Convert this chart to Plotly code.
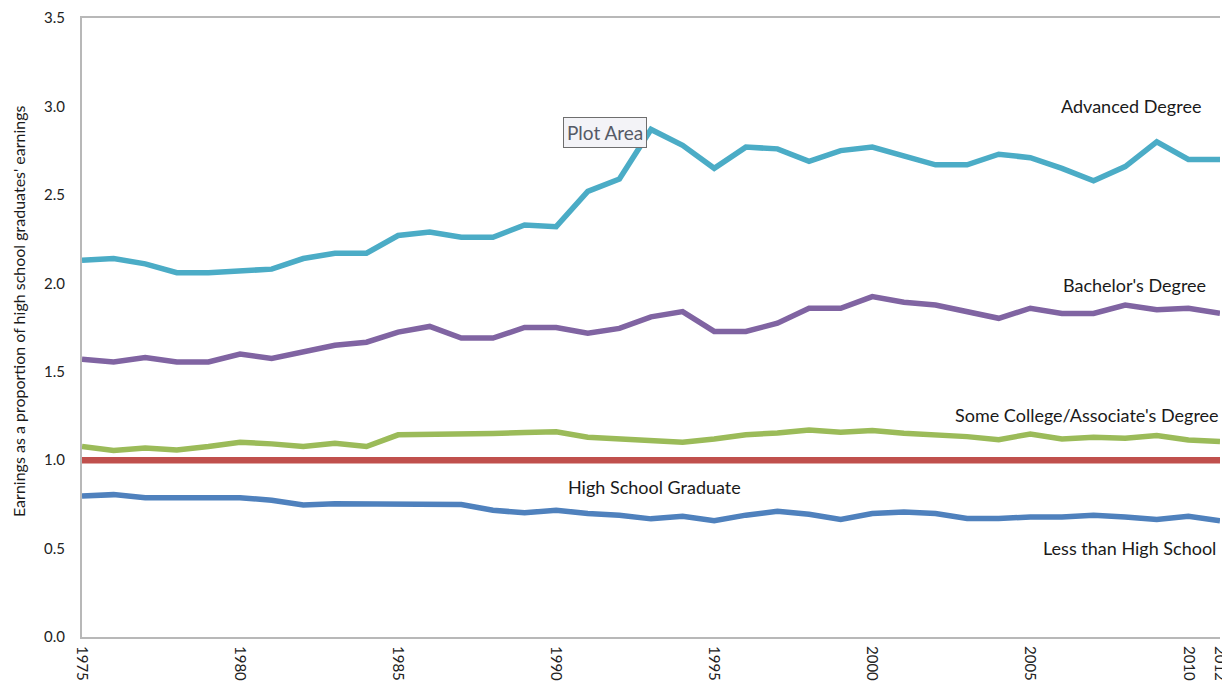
import plotly.graph_objects as go

years = [str(y) for y in range(1975, 2011)] + ["2012"]

advanced = [2.13, 2.14, 2.11, 2.06, 2.06, 2.07, 2.08, 2.14, 2.17, 2.17, 2.27, 2.29,
            2.26, 2.26, 2.33, 2.32, 2.52, 2.59, 2.87, 2.78, 2.65, 2.77, 2.76, 2.69,
            2.75, 2.77, 2.72, 2.67, 2.67, 2.73, 2.71, 2.65, 2.58, 2.66, 2.80, 2.70, 2.70]
bachelors = [1.57, 1.555, 1.58, 1.555, 1.555, 1.60, 1.575, 1.615, 1.65, 1.667, 1.724, 1.756,
             1.69, 1.69, 1.75, 1.75, 1.718, 1.745, 1.81, 1.84, 1.728, 1.728, 1.774, 1.859,
             1.859, 1.925, 1.893, 1.877, 1.84, 1.802, 1.859, 1.829, 1.829, 1.877, 1.85, 1.859, 1.83]
some_college = [1.077, 1.054, 1.069, 1.058, 1.077, 1.101, 1.092, 1.077, 1.096, 1.077, 1.143, 1.143,
                1.143, 1.150, 1.156, 1.161, 1.130, 1.120, 1.111, 1.101, 1.120, 1.143, 1.154, 1.171,
                1.158, 1.167, 1.152, 1.143, 1.133, 1.116, 1.148, 1.120, 1.129, 1.124, 1.139, 1.114, 1.105]
hs_grad = [1.0] * len(years)
less_hs = [0.797, 0.805, 0.788, 0.788, 0.795, 0.788, 0.773, 0.747, 0.754, 0.754, 0.749, 0.749,
           0.749, 0.717, 0.702, 0.717, 0.698, 0.689, 0.668, 0.683, 0.657, 0.689, 0.711, 0.694,
           0.664, 0.698, 0.707, 0.698, 0.670, 0.670, 0.679, 0.679, 0.689, 0.679, 0.664, 0.683, 0.657]

x_tick_labels = ["1975", "1980", "1985", "1990", "1995", "2000", "2005", "2010", "2012"]
y_ticks = [0.0, 0.5, 1.0, 1.5, 2.0, 2.5, 3.0, 3.5]

series = [
    ("Less than High School", less_hs, "#4F81BD", 5.5),
    ("High School Graduate", hs_grad, "#C0504D", 6.5),
    ("Some College/Associate's Degree", some_college, "#9BBB59", 5.5),
    ("Bachelor's Degree", bachelors, "#8064A2", 5.5),
    ("Advanced Degree", advanced, "#4BACC6", 5.5),
]

FONT = "Lato, 'Open Sans', sans-serif"

fig = go.Figure()
for name, vals, color, w in series:
    fig.add_trace(go.Scatter(x=years, y=vals, mode="lines", name=name,
                             line=dict(color=color, width=w), hoverinfo="skip"))

labels = [
    ("Advanced Degree", 33.18, 3.005),
    ("Bachelor's Degree", 33.28, 1.99),
    ("Some College/Associate's Degree", 31.78, 1.255),
    ("High School Graduate", 18.1, 0.85),
    ("Less than High School", 33.15, 0.506),
]
for text, xi, yv in labels:
    fig.add_annotation(x=xi, y=yv, xref="x", yref="y", text=text, showarrow=False,
                       xanchor="center", yanchor="middle",
                       font=dict(family=FONT, size=18, color="#1a1a1a"))

fig.add_annotation(x=16.55, y=2.853, xref="x", yref="y", text="Plot Area", showarrow=False,
                   xanchor="center", yanchor="middle",
                   font=dict(family=FONT, size=19, color="#555a66"),
                   bgcolor="#f3f3f7", bordercolor="#6e6e6e", borderwidth=1, borderpad=3)

fig.add_annotation(x=-0.0557, y=0.526, xref="paper", yref="paper",
                   text="Earnings as a proportion of high school graduates' earnings",
                   textangle=-90, showarrow=False, xanchor="center", yanchor="middle",
                   font=dict(family=FONT, size=16, color="#1a1a1a"))

fig.update_layout(
    width=1222, height=673,
    margin=dict(l=74, r=0, t=7, b=44),
    paper_bgcolor="white", plot_bgcolor="white",
    showlegend=False,
    font=dict(family=FONT, color="#333333"),
    xaxis=dict(type="category", range=[0, 36], tickmode="array", tickvals=x_tick_labels,
               ticktext=x_tick_labels, tickangle=90, showgrid=False, zeroline=False,
               showline=True, linecolor="#b8b8b8", linewidth=2, mirror=True,
               ticks="", ticklabelstandoff=4, ticklabeloverflow="allow",
               tickfont=dict(family=FONT, size=15, color="#222222")),
    yaxis=dict(range=[0, 3.5], tickmode="array", tickvals=y_ticks,
               ticktext=[f"{v:.1f}" for v in y_ticks], showgrid=False, zeroline=False,
               showline=True, linecolor="#b8b8b8", linewidth=2, ticks="",
               ticklabelstandoff=12, ticklabeloverflow="allow",
               tickfont=dict(family=FONT, size=15, color="#222222")),
)

fig.write_html("out.html")
